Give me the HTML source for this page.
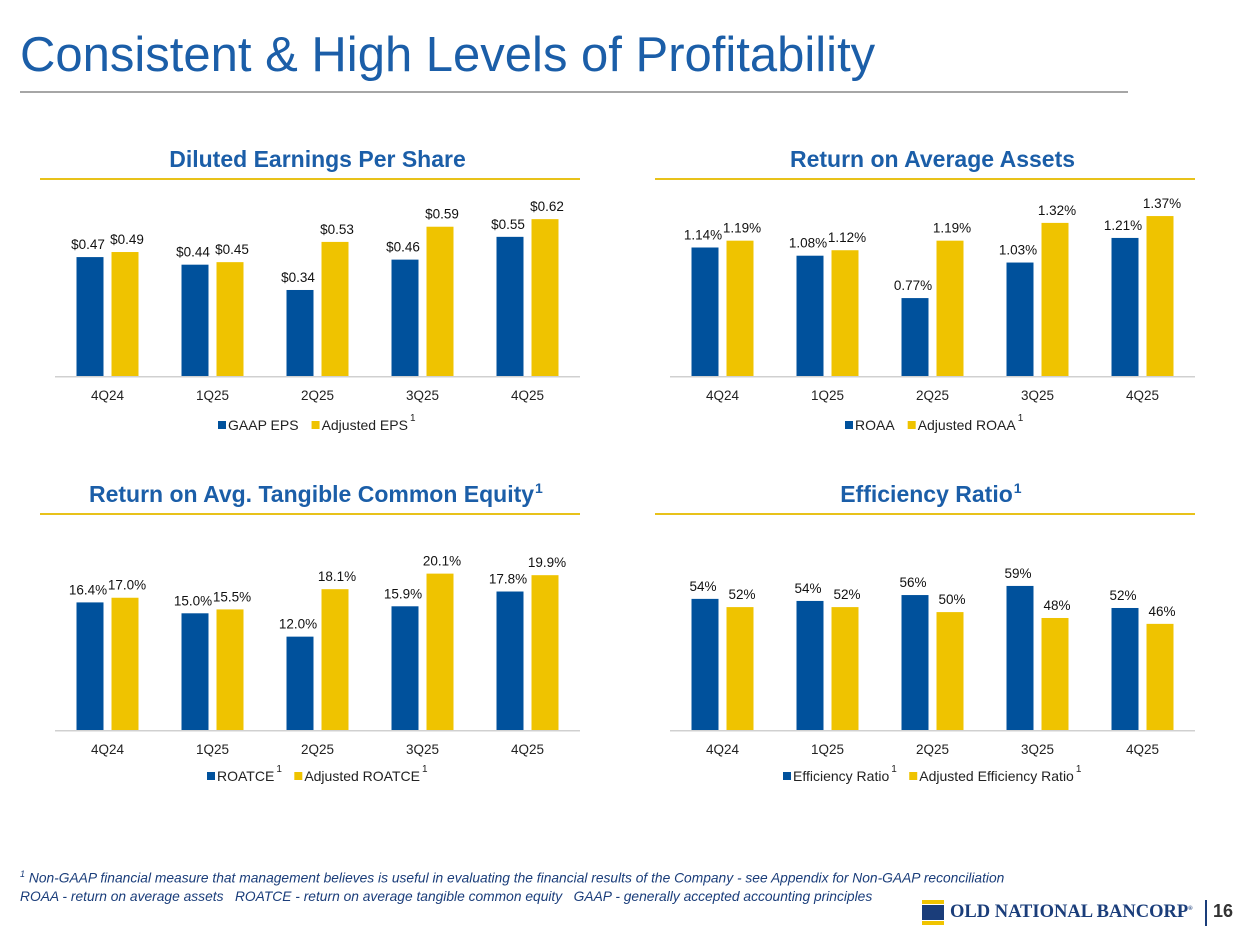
<!DOCTYPE html>
<html><head><meta charset="utf-8">
<style>
body{margin:0;width:1250px;height:938px;background:#fff;font-family:"Liberation Sans",Arial,sans-serif;overflow:hidden;position:relative}
.abs{position:absolute}
</style></head>
<body>
<div class="abs" style="left:20px;top:27px;font-size:49px;color:#1b5ea8;white-space:nowrap">Consistent &amp; High Levels of Profitability</div>
<div class="abs" style="left:20px;top:91px;width:1108px;height:2px;background:#a6a6a6"></div>
<svg class="abs" style="left:0;top:0" width="1250" height="938" id="charts"></svg>
<div class="abs" style="left:20px;top:865px;font-size:13.8px;font-style:italic;color:#1a3d7a;line-height:18px;white-space:nowrap"><sup style="font-size:9px">1</sup> Non-GAAP financial measure that management believes is useful in evaluating the financial results of the Company - see Appendix for Non-GAAP reconciliation<br>ROAA - return on average assets &nbsp; ROATCE - return on average tangible common equity &nbsp; GAAP - generally accepted accounting principles</div>
<div class="abs" style="left:922px;top:900px;width:22px;height:26px">
<div style="height:4px;background:#f0c400"></div><div style="height:15px;background:#1a3d7a;margin:1px 0"></div><div style="height:4px;background:#f0c400"></div></div>
<div class="abs" style="left:950px;top:902px;font-family:'Liberation Serif',serif;font-weight:bold;font-size:18.5px;color:#1a3d7a;white-space:nowrap">OLD NATIONAL BANCORP<sup style="font-size:6px">®</sup></div>
<div class="abs" style="left:1205px;top:900px;width:2px;height:26px;background:#1a3d7a"></div>
<div class="abs" style="left:1213px;top:901px;font-size:18px;font-weight:bold;color:#333">16</div>
<script>
const categories=["4Q24","1Q25","2Q25","3Q25","4Q25"];
const epsGaap=[0.47,0.44,0.34,0.46,0.55];
const epsAdj=[0.49,0.45,0.53,0.59,0.62];
const epsGaapLbl=["$0.47","$0.44","$0.34","$0.46","$0.55"];
const epsAdjLbl=["$0.49","$0.45","$0.53","$0.59","$0.62"];
const roaa=[1.14,1.08,0.77,1.03,1.21];
const roaaAdj=[1.19,1.12,1.19,1.32,1.37];
const roaaLbl=["1.14%","1.08%","0.77%","1.03%","1.21%"];
const roaaAdjLbl=["1.19%","1.12%","1.19%","1.32%","1.37%"];
const roatce=[16.4,15.0,12.0,15.9,17.8];
const roatceAdj=[17.0,15.5,18.1,20.1,19.9];
const roatceLbl=["16.4%","15.0%","12.0%","15.9%","17.8%"];
const roatceAdjLbl=["17.0%","15.5%","18.1%","20.1%","19.9%"];
const eff=[54.6,53.9,55.9,59.0,51.5];
const effAdj=[51.8,51.8,50.1,48.1,46.1];
const effLbl=["54%","54%","56%","59%","52%"];
const effAdjLbl=["52%","52%","50%","48%","46%"];

const svg=document.getElementById('charts');
const NS="http://www.w3.org/2000/svg";
function mk(tag,attrs,text){const e=document.createElementNS(NS,tag);for(const k in attrs)e.setAttribute(k,attrs[k]);if(text!==undefined)e.textContent=text;svg.appendChild(e);return e;}
function chart(o){
  const x0=o.x0,w=525,base=o.base,band=w/categories.length;
  const y=v=>base-(v-o.min)*o.scale;
  let t=mk('text',{x:x0+w/2-(o.sup?6:0),y:o.ty,'text-anchor':'middle','font-size':23,'font-weight':'bold',fill:'#1b5ea8'},o.title);
  
  
  if(o.sup){
    const tw=t.getComputedTextLength();
    let s=mk('text',{x:x0+w/2-6+tw/2+1,y:o.ty-9,'font-size':14,'font-weight':'bold',fill:'#1b5ea8'},'1');
    
    
  }
  let r=mk('rect',{x:x0-15,y:o.ty+11,width:w+15,height:2,fill:'#e8c21a'});
  
  
  let ax=mk('rect',{x:x0,y:base,width:w,height:1.5,fill:'#d0d0d0'});
  
  
  categories.forEach((c,i)=>{
    const cx=x0+band*(i+0.5);
    [[o.a,o.al,'#00519c',-31],[o.b,o.bl,'#efc300',4]].forEach((s,k)=>{
      const v=s[0][i],top=y(v);
      let b=mk('rect',{x:cx+s[3],y:top,width:27,height:base-top,fill:s[2]});
      
      
      let l=mk('text',{x:cx+s[3]+13.5+(k?2:-2),y:top-8,'text-anchor':'middle','font-size':13.5,fill:'#111'},s[1][i]);
      
      
    });
    let tl=mk('text',{x:cx,y:base+24,'text-anchor':'middle','font-size':13.5,fill:'#222'},c);
    
    
  });
  const ly=o.ly;let lx=o.lx;
  o.leg.forEach((lg,k)=>{
    let sq=mk('rect',{x:lx,y:ly-9,width:8,height:8,fill:k?'#efc300':'#00519c'});
    
    
    let tx=mk('text',{x:lx+10,y:ly,'font-size':14,fill:'#222'},lg[0]);
    
    
    const tw=tx.getComputedTextLength();
    if(lg[1]){let s=mk('text',{x:lx+12+tw,y:ly-9,'font-size':10,fill:'#222'},'1');
      
      }
    lx+=10+tw+(lg[1]?20:13);
  });
}
chart({id:'eps',title:'Diluted Earnings Per Share',x0:55,base:376,min:0,scale:253,ty:167,a:epsGaap,b:epsAdj,al:epsGaapLbl,bl:epsAdjLbl,ly:430,lx:218,leg:[['GAAP EPS',0],['Adjusted EPS',1]]});
chart({id:'roaa',title:'Return on Average Assets',x0:670,base:376,min:0.2,scale:136.7,ty:167,a:roaa,b:roaaAdj,al:roaaLbl,bl:roaaAdjLbl,ly:430,lx:845,leg:[['ROAA',0],['Adjusted ROAA',1]]});
chart({id:'roatce',title:'Return on Avg. Tangible Common Equity',sup:1,x0:55,base:730,min:0,scale:7.78,ty:502,a:roatce,b:roatceAdj,al:roatceLbl,bl:roatceAdjLbl,ly:781,lx:207,leg:[['ROATCE',1],['Adjusted ROATCE',1]]});
chart({id:'eff',title:'Efficiency Ratio',sup:1,x0:670,base:730,min:10,scale:2.94,ty:502,a:eff,b:effAdj,al:effLbl,bl:effAdjLbl,ly:781,lx:783,leg:[['Efficiency Ratio',1],['Adjusted Efficiency Ratio',1]]});
</script>
</body></html>
